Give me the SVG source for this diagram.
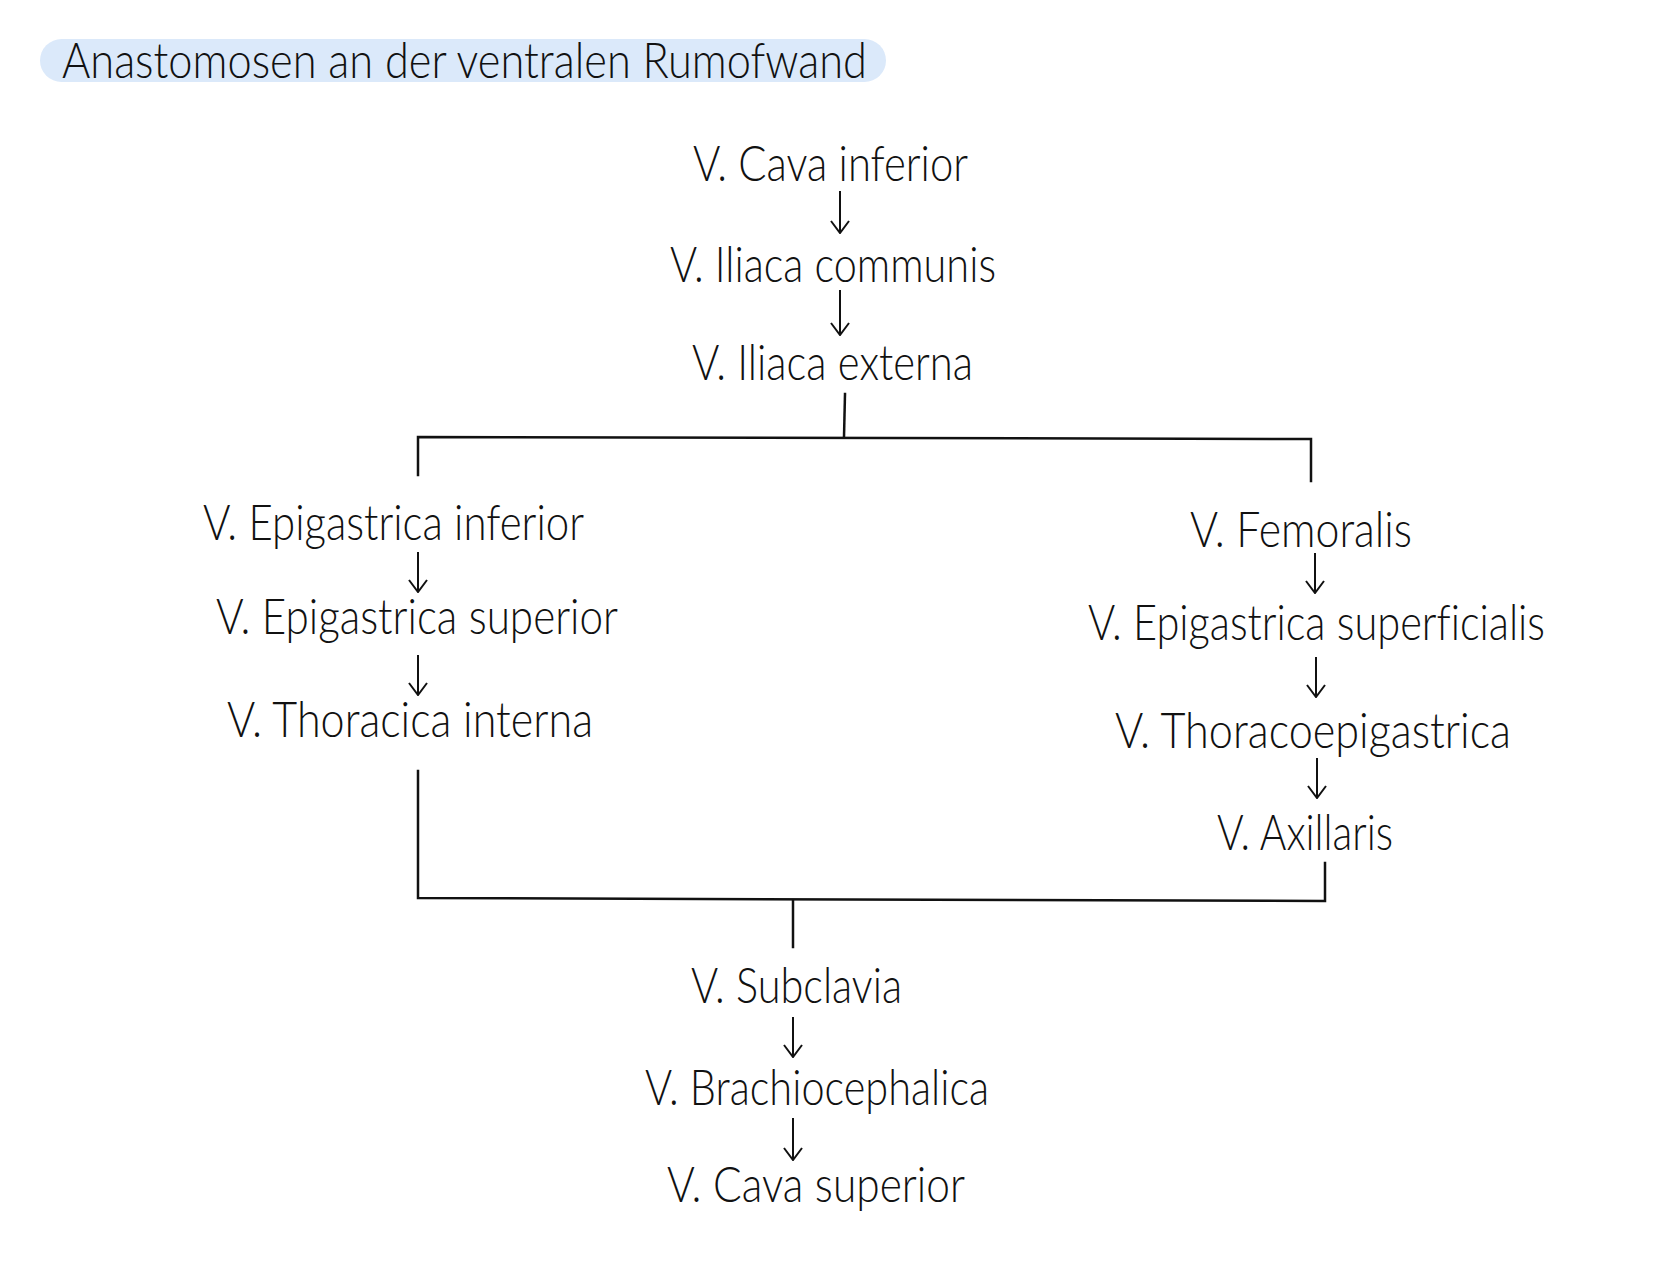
<svg xmlns="http://www.w3.org/2000/svg" width="1660" height="1269" viewBox="0 0 1660 1269">
<style>
.t{font-family:Lato,Roboto,"Liberation Sans",sans-serif;font-weight:300;font-size:49px;fill:#111;font-variant-ligatures:none;font-feature-settings:"liga" 0}
.c{fill:none;stroke:#111;stroke-width:2.5;stroke-linecap:square}
.a{fill:none;stroke:#111;stroke-width:2}
</style>
<defs>
<marker id="ah" viewBox="0 0 14 20" refX="13" refY="10" markerWidth="14" markerHeight="20" markerUnits="userSpaceOnUse" orient="auto">
<path d="M1,1 L13,10 L1,19" fill="none" stroke="#111" stroke-width="2"/>
</marker>
</defs>
<rect width="1660" height="1269" fill="#fff"/>
<g id="title">
<rect x="40" y="39" width="846" height="43" rx="21.5" fill="#dbe9fa"/>
<text class="t" x="62" y="78" font-size="52" textLength="805" lengthAdjust="spacingAndGlyphs">Anastomosen an der ventralen Rumofwand</text>
</g>
<g id="n-cava-inf"><text class="t" x="693" y="181" textLength="275" lengthAdjust="spacingAndGlyphs">V. Cava inferior</text></g>
<g id="n-iliaca-comm"><text class="t" x="670" y="282" textLength="326" lengthAdjust="spacingAndGlyphs">V. Iliaca communis</text></g>
<g id="n-iliaca-ext"><text class="t" x="692" y="380" textLength="281" lengthAdjust="spacingAndGlyphs">V. Iliaca externa</text></g>
<g id="n-epi-inf"><text class="t" x="203" y="540" textLength="381" lengthAdjust="spacingAndGlyphs">V. Epigastrica inferior</text></g>
<g id="n-epi-sup"><text class="t" x="216" y="634" textLength="402" lengthAdjust="spacingAndGlyphs">V. Epigastrica superior</text></g>
<g id="n-thor-int"><text class="t" x="227" y="737" textLength="366" lengthAdjust="spacingAndGlyphs">V. Thoracica interna</text></g>
<g id="n-femoralis"><text class="t" x="1190" y="547" textLength="222" lengthAdjust="spacingAndGlyphs">V. Femoralis</text></g>
<g id="n-epi-superf"><text class="t" x="1088" y="640" textLength="457" lengthAdjust="spacingAndGlyphs">V. Epigastrica superficialis</text></g>
<g id="n-thoracoepi"><text class="t" x="1115" y="748" textLength="396" lengthAdjust="spacingAndGlyphs">V. Thoracoepigastrica</text></g>
<g id="n-axillaris"><text class="t" x="1217" y="850" textLength="176" lengthAdjust="spacingAndGlyphs">V. Axillaris</text></g>
<g id="n-subclavia"><text class="t" x="691" y="1003" textLength="211" lengthAdjust="spacingAndGlyphs">V. Subclavia</text></g>
<g id="n-brachio"><text class="t" x="645" y="1105" textLength="344" lengthAdjust="spacingAndGlyphs">V. Brachiocephalica</text></g>
<g id="n-cava-sup"><text class="t" x="667" y="1202" textLength="298" lengthAdjust="spacingAndGlyphs">V. Cava superior</text></g>
<g id="connectors">
<line class="a" x1="840" y1="191" x2="840" y2="233" marker-end="url(#ah)"/>
<line class="a" x1="840" y1="290" x2="840" y2="335" marker-end="url(#ah)"/>
<line class="a" x1="418" y1="552" x2="418" y2="592" marker-end="url(#ah)"/>
<line class="a" x1="418" y1="655" x2="418" y2="695" marker-end="url(#ah)"/>
<line class="a" x1="1315" y1="553" x2="1315" y2="593" marker-end="url(#ah)"/>
<line class="a" x1="1316" y1="657" x2="1316" y2="697" marker-end="url(#ah)"/>
<line class="a" x1="1317" y1="758" x2="1317" y2="798" marker-end="url(#ah)"/>
<line class="a" x1="793" y1="1017" x2="793" y2="1057" marker-end="url(#ah)"/>
<line class="a" x1="793" y1="1118" x2="793" y2="1160" marker-end="url(#ah)"/>
<path class="c" d="M845,394 L844,437"/>
<path class="c" d="M418,475 L418,437 L1311,439 L1311,481"/>
<path class="c" d="M418,771 L418,898 L1325,901 L1325,863"/>
<path class="c" d="M793,901 L793,947"/>
</g>
</svg>
